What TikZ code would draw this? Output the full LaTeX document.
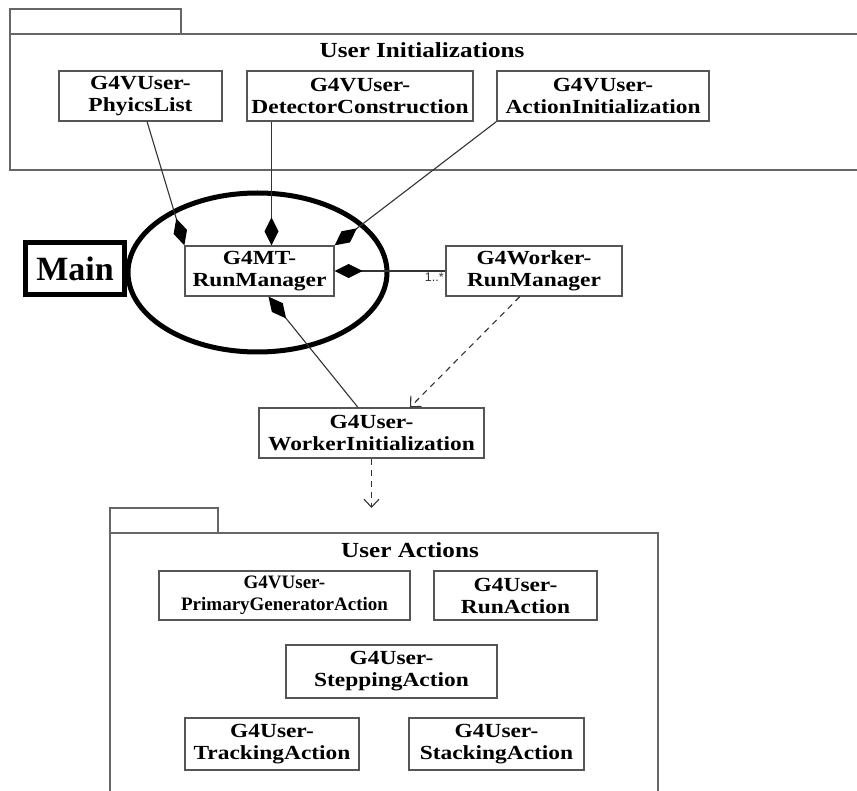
\documentclass[tikz,border=0pt]{standalone}
\usepackage{fontspec}
\setmainfont{Liberation Serif}
\newfontfamily\boxfont{Liberation Serif}[FakeStretch=1.17]
\setsansfont{Liberation Sans}
\usetikzlibrary{arrows.meta,calc}
\definecolor{line3}{HTML}{333333}
\definecolor{line5}{HTML}{555555}
\definecolor{gray6}{HTML}{666666}

\tikzset{
  umlbox/.style={draw=line5, line width=1.3pt, fill=white, align=center, inner sep=0pt,
    minimum height=50pt, font=\boxfont\bfseries\fontsize{20}{22}\selectfont},
  smallbox/.style={umlbox, font=\bfseries\fontsize{19}{22}\selectfont},
  pkg/.style={draw=gray6, line width=1.3pt},
  link/.style={draw=line3, line width=1.1pt},
  agg/.style={link, {Diamond[length=28pt,width=14pt,black,fill=black]}-},
  dep/.style={link, dash pattern=on 6pt off 5pt, -{Straight Barb[length=8pt,width=15pt]}}
}

\begin{document}
\begin{tikzpicture}[x=1pt, y=-1pt]
\useasboundingbox (0,0) rectangle (857,791);
\clip (0,0) rectangle (857,791);
\fill[white] (0,0) rectangle (857,791);

% user initializations package
\draw[pkg] (10,9) rectangle (181,34);
\draw[pkg] (10,34) rectangle (870,170);
\node[font=\boxfont\bfseries\fontsize{21.5}{24}\selectfont] (initTitle) at (422,50) {User Initializations};
\node[umlbox, minimum width=163pt] (phys) at (140.5,96) {G4VUser-\\PhyicsList};
\node[umlbox, minimum width=226pt] (det) at (360,96) {G4VUser-\\DetectorConstruction};
\node[umlbox, minimum width=212pt] (act) at (603,96) {G4VUser-\\ActionInitialization};

% run managers
\draw[line width=5pt] (257.5,272.5) ellipse (129.5 and 79.5);
\node[draw, line width=5pt, inner sep=0pt, minimum width=99pt, minimum height=52pt,
  font=\bfseries\fontsize{34}{36}\selectfont] (main) at (75,268.5) {Main};
\node[umlbox, minimum width=149pt] (mt) at (259.5,271) {G4MT-\\RunManager};
\node[umlbox, minimum width=176pt] (wrk) at (534,271) {G4Worker-\\RunManager};
\node[umlbox, minimum width=225pt] (winit) at (371.5,433) {G4User-\\WorkerInitialization};

\coordinate (mtN) at ($(mt.north west)!0.58!(mt.north east)$);
\coordinate (mtS) at ($(mt.south west)!0.56!(mt.south east)$);
\draw[agg] (mt.north west) -- ($(phys.south west)!0.54!(phys.south east)$);
\draw[agg] (mtN) -- (mtN |- det.south);
\draw[agg] (mt.north east) -- (act.south west);
\draw[agg] (mt.east) -- (wrk.west);
\node[anchor=north east, inner sep=1.5pt, text=line3, font=\sffamily\fontsize{12.5}{13}\selectfont]
  (mult) at (wrk.west) {1..*};
\draw[agg] (mtS) -- ($(winit.north west)!0.44!(winit.north east)$);
\draw[dep] ($(wrk.south west)!0.42!(wrk.south east)$) -- ($(winit.north west)!0.67!(winit.north east)$);

% user actions package
\coordinate (actTop) at (winit.south |- 0,508);
\draw[dep] (winit.south) -- (actTop);
\draw[pkg] (110,508) rectangle (218,533);
\draw[pkg] (110,533) rectangle (658,800);
\node[font=\boxfont\bfseries\fontsize{21.5}{24}\selectfont] (actTitle) at (410,550) {User Actions};
\node[smallbox, minimum width=251pt, minimum height=49pt] (prim) at (284.5,595.5) {G4VUser-\\PrimaryGeneratorAction};
\node[umlbox, minimum width=163pt, minimum height=49pt] (run) at (515.5,595.5) {G4User-\\RunAction};
\node[umlbox, minimum width=211pt, minimum height=53pt] (step) at (391.5,671.5) {G4User-\\SteppingAction};
\node[umlbox, minimum width=174pt, minimum height=52pt] (track) at (272,744) {G4User-\\TrackingAction};
\node[umlbox, minimum width=175pt, minimum height=52pt] (stack) at (496.5,744) {G4User-\\StackingAction};
\end{tikzpicture}
\end{document}
